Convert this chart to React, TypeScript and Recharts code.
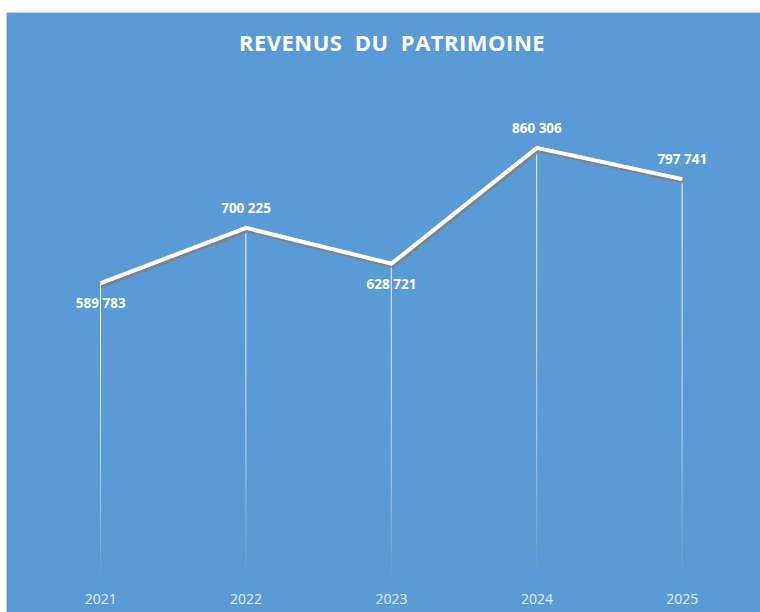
import { ComposedChart, Bar, Line, XAxis, YAxis, LabelList } from 'recharts'

const years = ['2021', '2022', '2023', '2024', '2025']
const revenus = [589783, 700225, 628721, 860306, 797741]

const data = years.map((year, i) => ({ year, value: revenus[i] }))

const fmt = (v: number) =>
  String(Math.round(v)).replace(/\B(?=(\d{3})+(?!\d))/g, ' ')

function ValueLabel(props: any) {
  const { x, y, value, index } = props
  const next = revenus[index + 1]
  const below = next !== undefined && value < next
  return (
    <text
      x={x}
      y={below ? y + 25 : y - 15}
      textAnchor="middle"
      fill="#ffffff"
      fontSize={13.5}
      fontWeight={700}
      fontFamily="'Open Sans', sans-serif"
    >
      {fmt(value)}
    </text>
  )
}

export default function App() {
  return (
    <div
      style={{
        position: 'fixed',
        left: 0,
        top: 0,
        width: 760,
        height: 612,
        overflow: 'hidden',
        background: '#ffffff',
      }}
    >
      <div
        style={{
          position: 'absolute',
          left: 6,
          top: 12,
          width: 770,
          height: 620,
          background: '#5b9bd5',
          border: '1px solid #d0d0d0',
        }}
      >
        <div
          style={{
            position: 'absolute',
            left: 0,
            top: 14,
            width: 770,
            textAlign: 'center',
            color: '#ffffff',
            fontFamily: "'Open Sans', sans-serif",
            fontWeight: 700,
            fontSize: 22,
            letterSpacing: 0.5,
            wordSpacing: 6,
          }}
        >
          REVENUS DU PATRIMOINE
        </div>
        <ComposedChart
          width={770}
          height={610}
          data={data}
          margin={{ top: 65, right: 22, left: 21, bottom: 15 }}
        >
          <defs>
            <linearGradient id="drop" x1="0" y1="0" x2="0" y2="1">
              <stop offset="0%" stopColor="#ffffff" stopOpacity={0.95} />
              <stop offset="60%" stopColor="#ffffff" stopOpacity={0.6} />
              <stop offset="100%" stopColor="#ffffff" stopOpacity={0} />
            </linearGradient>
            <filter id="shadow" x="-10%" y="-10%" width="120%" height="130%">
              <feDropShadow dx={1.5} dy={2.5} stdDeviation={0.6} floodColor="#7f7f7f" floodOpacity={0.9} />
            </filter>
          </defs>
          <XAxis
            dataKey="year"
            axisLine={false}
            tickLine={false}
            tickSize={0}
            tickMargin={16}
            height={30}
            tick={{ fill: '#e6edf5', fontSize: 14, fontFamily: "'Open Sans', sans-serif" }}
          />
          <YAxis hide domain={[0, 1000000]} />
          <Bar dataKey="value" barSize={1} fill="url(#drop)" isAnimationActive={false} />
          <Line
            dataKey="value"
            stroke="#ffffff"
            strokeWidth={4}
            dot={false}
            filter="url(#shadow)"
            isAnimationActive={false}
          >
            <LabelList dataKey="value" content={<ValueLabel />} />
          </Line>
        </ComposedChart>
      </div>
    </div>
  )
}
